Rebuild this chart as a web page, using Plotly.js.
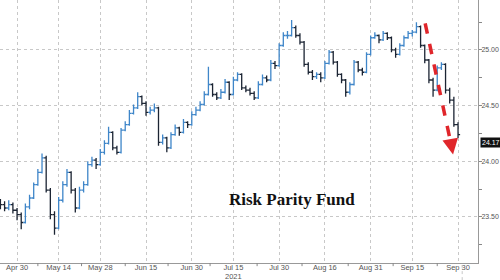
<!DOCTYPE html>
<html>
<head>
<meta charset="utf-8">
<script src="https://cdn.plot.ly/plotly-3.0.1.min.js"></script>
<style>html,body{margin:0;padding:0;background:#fff;}#chart{width:500px;height:280px;}</style>
</head>
<body>
<div id="chart"></div>
<script>
// Trading days Apr 26 - Sep 30, 2021 (weekends and US market holidays excluded)
const startDate = "2021-04-26";
const endDate = "2021-09-30";
const holidays = ["2021-05-31", "2021-07-05", "2021-09-06"];

const openVals = [23.63,23.61,23.58,23.61,23.56,23.52,23.45,23.59,23.67,23.79,
23.90,24.03,23.74,23.52,23.40,23.65,23.79,23.90,23.74,23.58,
23.74,23.79,23.97,24.01,23.97,24.08,24.16,24.26,24.12,24.08,
24.28,24.33,24.43,24.48,24.58,24.52,24.44,24.46,24.48,24.17,
24.21,24.12,24.24,24.30,24.26,24.35,24.33,24.42,24.46,24.51,
24.60,24.69,24.60,24.57,24.62,24.71,24.60,24.73,24.78,24.66,
24.64,24.61,24.57,24.69,24.75,24.73,24.88,24.86,25.04,25.13,
25.13,25.20,25.13,25.07,24.87,24.80,24.76,24.78,24.75,24.88,
24.98,24.89,24.78,24.73,24.62,24.69,24.89,24.82,24.80,24.96,
25.11,25.13,25.09,25.15,25.11,25.00,24.96,25.04,25.11,25.15,
25.16,25.21,25.04,24.91,24.73,24.64,24.84,24.87,24.64,24.55,
24.33,24.24];
const highVals = [23.66,23.64,23.65,23.63,23.58,23.54,23.62,23.70,23.81,23.93,
24.07,24.05,23.76,23.55,23.68,23.82,23.93,23.91,23.76,23.77,
23.82,24.00,24.04,24.03,24.11,24.19,24.31,24.27,24.14,24.30,
24.36,24.46,24.51,24.62,24.59,24.54,24.49,24.52,24.49,24.24,
24.22,24.26,24.33,24.31,24.38,24.36,24.45,24.49,24.54,24.63,
24.85,24.70,24.62,24.65,24.74,24.72,24.76,24.80,24.79,24.68,
24.66,24.63,24.72,24.78,24.77,24.91,24.90,25.06,25.16,25.17,
25.27,25.22,25.15,25.08,24.89,24.82,24.80,24.80,24.90,25.00,
24.99,24.90,24.79,24.74,24.71,24.91,24.90,24.84,24.98,25.13,
25.16,25.14,25.17,25.16,25.12,25.02,25.06,25.13,25.17,25.18,
25.25,25.22,25.05,24.92,24.75,24.86,24.89,24.88,24.66,24.58,
24.35,24.27];
const lowVals = [23.57,23.55,23.56,23.53,23.47,23.39,23.44,23.57,23.66,23.78,
23.89,23.72,23.48,23.34,23.39,23.63,23.77,23.71,23.54,23.57,
23.72,23.78,23.95,23.93,23.96,24.06,24.15,24.10,24.06,24.07,
24.27,24.32,24.42,24.47,24.50,24.41,24.42,24.44,24.14,24.15,
24.08,24.11,24.23,24.23,24.25,24.30,24.32,24.41,24.45,24.50,
24.59,24.58,24.55,24.56,24.61,24.55,24.59,24.72,24.64,24.62,
24.59,24.55,24.56,24.68,24.71,24.72,24.83,24.85,25.03,25.10,
25.12,25.11,25.05,24.85,24.78,24.73,24.74,24.71,24.74,24.87,
24.87,24.76,24.70,24.58,24.60,24.68,24.80,24.77,24.79,24.95,
25.10,25.06,25.08,25.09,24.98,24.93,24.95,25.03,25.10,25.12,
25.15,25.02,24.88,24.70,24.58,24.63,24.82,24.61,24.52,24.31,
24.21,24.14];
const closeVals = [23.61,23.58,23.61,23.56,23.52,23.45,23.59,23.67,23.79,23.90,
24.03,23.74,23.52,23.40,23.65,23.79,23.90,23.74,23.58,23.74,
23.79,23.97,24.01,23.97,24.08,24.16,24.26,24.12,24.08,24.28,
24.33,24.43,24.48,24.58,24.52,24.44,24.46,24.48,24.17,24.21,
24.12,24.24,24.30,24.26,24.35,24.33,24.42,24.46,24.51,24.60,
24.69,24.60,24.57,24.62,24.71,24.60,24.73,24.78,24.66,24.64,
24.61,24.57,24.69,24.75,24.73,24.88,24.86,25.04,25.13,25.13,
25.20,25.13,25.07,24.87,24.80,24.76,24.78,24.75,24.88,24.98,
24.89,24.78,24.73,24.62,24.69,24.89,24.82,24.80,24.96,25.11,
25.13,25.09,25.15,25.11,25.00,24.96,25.04,25.11,25.15,25.16,
25.21,25.04,24.91,24.73,24.64,24.84,24.87,24.64,24.55,24.33,
24.24,24.17];

const tickDates = ["2021-04-30","2021-05-14","2021-05-28","2021-06-15","2021-06-30","2021-07-15","2021-07-30","2021-08-16","2021-08-31","2021-09-15","2021-09-30"];
const tickLabels = ["Apr 30","May 14","May 28","Jun 15","Jun 30","Jul 15","Jul 30","Aug 16","Aug 31","Sep 15","Sep 30"];
const yearLabel = "2021";
const yearLabelDate = "2021-07-15";
const yTickVals = [23.5, 24.0, 24.5, 25.0];
const yTickLabels = ["23.50", "24.00", "24.50", "25.00"];
const lastValue = "24.17";
const chartTitle = "Risk Parity Fund";

// build category list of trading days
const dates = [];
{
  let d = new Date(startDate + "T00:00:00Z");
  const e = new Date(endDate + "T00:00:00Z");
  while (d <= e) {
    const s = d.toISOString().slice(0,10);
    const wd = d.getUTCDay();
    if (wd !== 0 && wd !== 6 && holidays.indexOf(s) < 0) dates.push(s);
    d = new Date(d.getTime() + 86400000);
  }
}

const trace = {
  type: "ohlc",
  x: dates,
  open: openVals, high: highVals, low: lowVals, close: closeVals,
  increasing: {line: {color: "#3f86c9", width: 1.3}},
  decreasing: {line: {color: "#1b2433", width: 1.3}},
  tickwidth: 0.5,
  hoverinfo: "skip",
  showlegend: false
};

const gridCol = "#c8c8c8";
const axisFont = "Liberation Sans, Arial, sans-serif";
const minorIdx = [9, 19.5, 30, 40.3, 50.4, 61.7, 72.5, 83.6, 94.4, 105];
const shapes = minorIdx.map(v => ({type:"line", xref:"x", yref:"paper", x0:v, x1:v, y0:0, y1:-0.012, line:{color:"#888", width:1}}));
// red dashed arrow shaft
shapes.push({type:"line", xref:"x", yref:"y", x0:102.1, y0:25.24, x1:108.4, y1:24.14, line:{color:"#e0262b", width:3.5, dash:"dash"}});
// Sep 30 gridline extends below axis
shapes.push({type:"line", xref:"x", yref:"paper", x0:111, x1:111, y0:-0.065, y1:0, line:{color:gridCol, width:1, dash:"dot"}});

const yearIdx = dates.indexOf(yearLabelDate);

const layout = {
  width: 500, height: 280,
  margin: {l:0, r:22, t:0, b:17},
  paper_bgcolor: "#fff", plot_bgcolor: "#fff",
  font: {family: axisFont, size: 7, color: "#555"},
  xaxis: {
    type: "category",
    range: [-0.1, 114.8],
    tickvals: tickDates, ticktext: tickLabels,
    tickangle: 0,
    showgrid: true, gridcolor: gridCol, griddash: "dot", gridwidth: 1,
    showline: true, linecolor: "#999", linewidth: 1,
    ticks: "", ticklen: 0,
    ticklabelstandoff: -3,
    rangeslider: {visible: false},
    tickfont: {family: axisFont, size: 7.5, color: "#555"},
    fixedrange: true
  },
  yaxis: {
    side: "right",
    range: [23.086, 25.449],
    tickvals: yTickVals,
    ticktext: yTickLabels,
    showgrid: true, gridcolor: gridCol, griddash: "dot", gridwidth: 1,
    showline: true, linecolor: "#999", linewidth: 1,
    ticks: "outside", ticklen: 3, tickcolor: "#888",
    ticklabelstandoff: -2,
    minor: {tickvals: [23.25, 23.75, 24.25, 24.75, 25.25], ticks: "outside", ticklen: 3, tickcolor: "#888", showgrid: false},
    zeroline: false,
    tickfont: {family: axisFont, size: 7, color: "#555"},
    fixedrange: true
  },
  shapes: shapes,
  annotations: [
    {x: 108.8, y: 24.06, xref: "x", yref: "y", ax: -2, ay: -11, text: "", showarrow: true,
     arrowhead: 2, arrowsize: 0.9, arrowwidth: 3.5, arrowcolor: "#e0262b"},
    {x: 1, xref: "paper", y: 24.17, yref: "y", xanchor: "left", yanchor: "middle", xshift: 2,
     text: lastValue, showarrow: false, bgcolor: "#111", font: {family: axisFont, color: "#fff", size: 7}, borderpad: 1},
    {x: yearIdx, xref: "x", y: 0, yref: "paper", yanchor: "middle", yshift: -13.5,
     text: yearLabel, showarrow: false, font: {family: axisFont, color: "#555", size: 7.5}},
    {x: 0.61, xref: "paper", y: 23.66, yref: "y", text: chartTitle, showarrow: false,
     font: {family: "Liberation Serif, Times New Roman, serif", size: 17, color: "#111", weight: "bold"}}
  ]
};

Plotly.newPlot("chart", [trace], layout, {staticPlot: true, displayModeBar: false});
</script>
</body>
</html>
